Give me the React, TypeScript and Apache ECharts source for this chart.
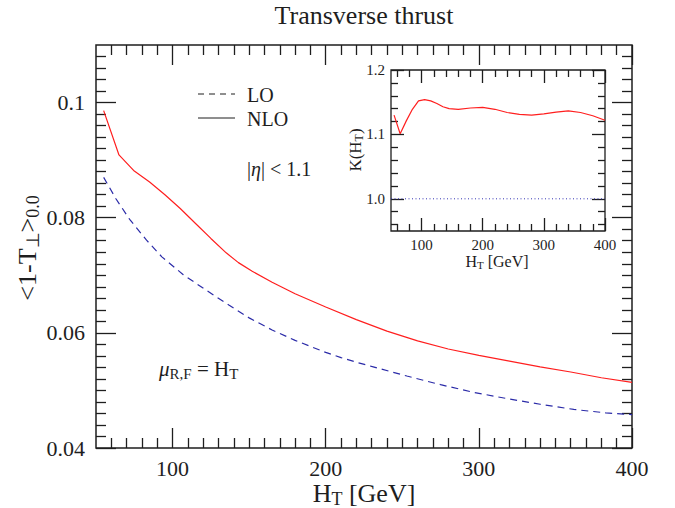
import React, { useEffect, useRef } from "react";
import * as echarts from "echarts";

// ---- data ----
const nloX = [55, 65, 75, 85, 95, 105, 115, 125, 135, 143, 152, 165, 180, 200, 220, 240, 260, 280, 300, 320, 340, 360, 380, 400];
const nloY = [0.0986, 0.0909, 0.0881, 0.0862, 0.084, 0.0816, 0.079, 0.0764, 0.0739, 0.0722, 0.0707, 0.0688, 0.0668, 0.0645, 0.0623, 0.0603, 0.0586, 0.0572, 0.0561, 0.0551, 0.0541, 0.0532, 0.0522, 0.0514];

const loX = [55, 63, 72, 83, 93, 107, 122, 137, 150, 165, 180, 200, 210, 220, 231, 253, 275, 296, 318, 340, 362, 383, 400];
const loY = [0.087, 0.0833, 0.0797, 0.0761, 0.0732, 0.0701, 0.0674, 0.0648, 0.0626, 0.0605, 0.0587, 0.0566, 0.0557, 0.0549, 0.0541, 0.0525, 0.051, 0.0497, 0.0486, 0.0476, 0.0467, 0.0461, 0.0458];

const kX = [55, 65, 75, 85, 95, 105, 115, 125, 135, 145, 160, 180, 200, 220, 240, 260, 280, 300, 320, 340, 360, 380, 400];
const kY = [1.13, 1.101, 1.121, 1.139, 1.152, 1.154, 1.152, 1.148, 1.143, 1.14, 1.139, 1.141, 1.142, 1.139, 1.134, 1.131, 1.13, 1.132, 1.1345, 1.1365, 1.134, 1.129, 1.122];

const refX = [50, 400];
const refY = [1.0, 1.0];

// tick labels
const mainXTicks = [100, 200, 300, 400];
const mainYTicks = [0.04, 0.06, 0.08, 0.1];
const insetXTicks = [100, 200, 300, 400];
const insetYTicks = [1.0, 1.1, 1.2];

const FONT = "Liberation Serif";
const INK = "#1e1e1e";

function steps(start: number, end: number, step: number, exclude: number[]) {
  const out: number[] = [];
  const n = Math.round((end - start) / step);
  for (let i = 0; i <= n; i++) {
    const v = Math.round((start + i * step) * 1e6) / 1e6;
    if (!exclude.some((e) => Math.abs(e - v) < 1e-9)) out.push(v);
  }
  return out;
}

const mainXMinor = steps(60, 390, 10, mainXTicks);
const mainYMinor = steps(0.042, 0.108, 0.002, mainYTicks);
const insetXMinor = steps(60, 380, 20, insetXTicks);
const insetYMinor = steps(0.96, 1.18, 0.02, insetYTicks);

function mkAxis(
  gridIndex: number,
  pos: string,
  min: number,
  max: number,
  ticks: number[],
  len: number,
  label?: { size: number; margin: number; fmt: (v: number) => string }
) {
  return {
    type: "value",
    gridIndex,
    position: pos,
    min,
    max,
    axisLine: { show: false, onZero: false },
    splitLine: { show: false },
    axisTick: {
      show: true,
      inside: true,
      length: len,
      customValues: ticks,
      lineStyle: { color: INK, width: 1.3 },
    },
    axisLabel: label
      ? {
          show: true,
          customValues: ticks,
          fontSize: label.size,
          fontFamily: FONT,
          color: INK,
          margin: label.margin,
          formatter: label.fmt,
        }
      : { show: false },
  };
}

function richText(size: number, sub: number, drop: number) {
  return {
    m: { fontSize: size, fontFamily: FONT, fill: INK, lineHeight: size },
    i: { fontSize: size, fontFamily: FONT, fontStyle: "italic", fill: INK, lineHeight: size },
    s: { fontSize: sub, fontFamily: FONT, fill: INK, lineHeight: sub, padding: [drop, 0, 0, 0] },
  };
}

export default function App() {
  const ref = useRef<HTMLDivElement>(null);
  useEffect(() => {
    if (!ref.current) return;
    const chart = echarts.init(ref.current, undefined, { renderer: "svg" });
    const pairs = (xs: number[], ys: number[]) => xs.map((x, i) => [x, ys[i]]);

    const option: any = {
      animation: false,
      backgroundColor: "#fff",
      textStyle: { fontFamily: FONT },
      grid: [
        { left: 96, top: 45, width: 536, height: 403, show: true, borderColor: INK, borderWidth: 1.5 },
        {
          left: 391,
          top: 70,
          width: 214,
          height: 161,
          show: true,
          borderColor: INK,
          borderWidth: 1.3,
          backgroundColor: "#fff",
        },
      ],
      xAxis: [
        mkAxis(0, "bottom", 50, 400, mainXTicks, 20, { size: 22, margin: 9, fmt: (v) => String(v) }),
        mkAxis(0, "bottom", 50, 400, mainXMinor, 10),
        mkAxis(0, "top", 50, 400, mainXTicks, 20),
        mkAxis(0, "top", 50, 400, mainXMinor, 10),
        mkAxis(1, "bottom", 50, 400, insetXTicks, 13, { size: 15, margin: 6, fmt: (v) => String(v) }),
        mkAxis(1, "bottom", 50, 400, insetXMinor, 7),
        mkAxis(1, "top", 50, 400, insetXTicks, 13),
        mkAxis(1, "top", 50, 400, insetXMinor, 7),
      ],
      yAxis: [
        mkAxis(0, "left", 0.04, 0.11, mainYTicks, 20, { size: 22, margin: 11, fmt: (v) => String(v) }),
        mkAxis(0, "left", 0.04, 0.11, mainYMinor, 10),
        mkAxis(0, "right", 0.04, 0.11, mainYTicks, 20),
        mkAxis(0, "right", 0.04, 0.11, mainYMinor, 10),
        mkAxis(1, "left", 0.95, 1.2, insetYTicks, 13, { size: 15, margin: 6, fmt: (v) => v.toFixed(1) }),
        mkAxis(1, "left", 0.95, 1.2, insetYMinor, 7),
        mkAxis(1, "right", 0.95, 1.2, insetYTicks, 13),
        mkAxis(1, "right", 0.95, 1.2, insetYMinor, 7),
      ],
      series: [
        {
          name: "NLO",
          type: "line",
          xAxisIndex: 0,
          yAxisIndex: 0,
          data: pairs(nloX, nloY),
          symbol: "none",
          lineStyle: { color: "#ff1f1f", width: 1.2 },
        },
        {
          name: "LO",
          type: "line",
          xAxisIndex: 0,
          yAxisIndex: 0,
          data: pairs(loX, loY),
          symbol: "none",
          lineStyle: { color: "#2b2ba8", width: 1.2, type: [7, 5] },
        },
        {
          name: "K",
          type: "line",
          xAxisIndex: 4,
          yAxisIndex: 4,
          data: pairs(kX, kY),
          symbol: "none",
          lineStyle: { color: "#ff1f1f", width: 1.2 },
          z: 5,
        },
        {
          name: "ref",
          type: "line",
          xAxisIndex: 4,
          yAxisIndex: 4,
          data: pairs(refX, refY),
          symbol: "none",
          lineStyle: { color: "#3535b5", width: 1, type: [1, 2.5] },
          z: 5,
        },
      ],
      graphic: [
        {
          type: "text",
          x: 364,
          y: 15,
          style: { text: "Transverse thrust", fontSize: 26, fontFamily: FONT, fill: INK, align: "center", verticalAlign: "middle" },
        },
        {
          type: "text",
          x: 364,
          y: 493,
          style: {
            text: "{m|H}{s|T}{m| [GeV]}",
            rich: richText(26, 18, 12),
            align: "center",
            verticalAlign: "middle",
          },
        },
        {
          type: "text",
          x: 27,
          y: 248,
          rotation: Math.PI / 2,
          style: {
            text: "{m|<1-T}{s|⊥}{m|>}{s|0.0}",
            rich: richText(26, 18, 12),
            align: "center",
            verticalAlign: "middle",
          },
        },
        {
          type: "text",
          x: 355,
          y: 150,
          rotation: Math.PI / 2,
          style: {
            text: "{m|K(H}{s|T}{m|)}",
            rich: richText(17, 12, 8),
            align: "center",
            verticalAlign: "middle",
          },
        },
        {
          type: "text",
          x: 497,
          y: 261,
          style: {
            text: "{m|H}{s|T}{m| [GeV]}",
            rich: richText(16, 11, 7),
            align: "center",
            verticalAlign: "middle",
          },
        },
        {
          type: "line",
          shape: { x1: 198, y1: 94, x2: 235, y2: 94 },
          style: { stroke: INK, lineWidth: 1, lineDash: [6, 5] },
        },
        {
          type: "line",
          shape: { x1: 198, y1: 118, x2: 235, y2: 118 },
          style: { stroke: INK, lineWidth: 1 },
        },
        {
          type: "text",
          x: 247,
          y: 95,
          style: { text: "LO", fontSize: 20, fontFamily: FONT, fill: INK, align: "left", verticalAlign: "middle" },
        },
        {
          type: "text",
          x: 247,
          y: 119,
          style: { text: "NLO", fontSize: 20, fontFamily: FONT, fill: INK, align: "left", verticalAlign: "middle" },
        },
        {
          type: "text",
          x: 247,
          y: 169,
          style: {
            text: "|{i|η}| < 1.1",
            fontSize: 20,
            fontFamily: FONT,
            fill: INK,
            rich: richText(20, 14, 9),
            align: "left",
            verticalAlign: "middle",
          },
        },
        {
          type: "text",
          x: 159,
          y: 369,
          style: {
            text: "{i|μ}{s|R,F}{m| = H}{s|T}",
            rich: richText(21, 15, 10),
            align: "left",
            verticalAlign: "middle",
          },
        },
      ],
    };
    chart.setOption(option);
    return () => chart.dispose();
  }, []);
  return (
    <div
      ref={ref}
      style={{ position: "absolute", left: 0, top: 0, width: 675, height: 508, background: "#fff" }}
    />
  );
}
